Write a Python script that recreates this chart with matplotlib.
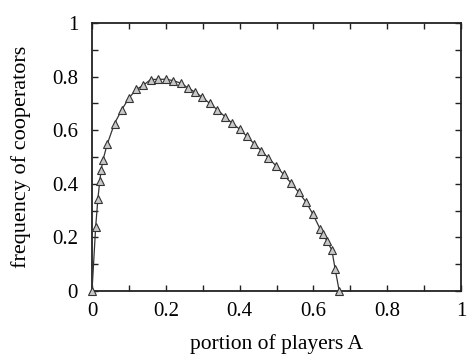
import matplotlib
import matplotlib.pyplot as plt
from matplotlib.ticker import MultipleLocator

matplotlib.use("Agg")

# values
portion = [0.0, 0.010, 0.016, 0.021, 0.025, 0.030, 0.041, 0.061, 0.081, 0.100,
           0.120, 0.139, 0.159, 0.180, 0.200, 0.220, 0.240, 0.259, 0.279, 0.299,
           0.319, 0.339, 0.360, 0.379, 0.400, 0.419, 0.439, 0.459, 0.478, 0.499,
           0.519, 0.540, 0.560, 0.580, 0.599, 0.618, 0.627, 0.636, 0.650, 0.659,
           0.670]
coop = [0.0, 0.24, 0.345, 0.41, 0.453, 0.49, 0.547, 0.625, 0.677, 0.72,
        0.752, 0.768, 0.789, 0.79, 0.79, 0.785, 0.776, 0.759, 0.742, 0.723,
        0.70, 0.677, 0.651, 0.627, 0.604, 0.578, 0.550, 0.523, 0.496, 0.467,
        0.435, 0.402, 0.368, 0.332, 0.286, 0.232, 0.212, 0.188, 0.153, 0.081,
        0.0]
tick_vals = [0, 0.2, 0.4, 0.6, 0.8, 1]
tick_labels = ["0", "0.2", "0.4", "0.6", "0.8", "1"]

plt.rcParams["font.family"] = ["Liberation Serif", "DejaVu Serif"]
plt.rcParams["font.size"] = 15

fig = plt.figure(figsize=(4.68, 3.56), dpi=100)
ax = fig.add_axes([92 / 468, 1 - 291 / 356, 369 / 468, 268 / 356])

ax.plot(portion, coop, color="#333333", lw=0.9, marker="^", ms=5.5,
        mfc="#c8c8c8", mec="#333333", mew=0.8, clip_on=False, zorder=3)

ax.set_xlim(0, 1)
ax.set_ylim(0, 1)
ax.set_xticks(tick_vals)
ax.set_xticklabels(tick_labels)
ax.set_yticks(tick_vals)
ax.set_yticklabels(tick_labels)
ax.xaxis.set_minor_locator(MultipleLocator(0.1))
ax.yaxis.set_minor_locator(MultipleLocator(0.1))
ax.tick_params(which="both", direction="in", top=True, right=True,
               length=4, width=1, color="#222222")
ax.tick_params(axis="x", pad=8)
ax.tick_params(axis="y", pad=10)
for s in ax.spines.values():
    s.set_linewidth(1.3)
    s.set_color("#222222")

ax.set_xlabel("portion of players A", fontsize=15.5, labelpad=9)
ax.set_ylabel("frequency of cooperators", fontsize=16, labelpad=15)

fig.savefig("out.png", dpi=100)
